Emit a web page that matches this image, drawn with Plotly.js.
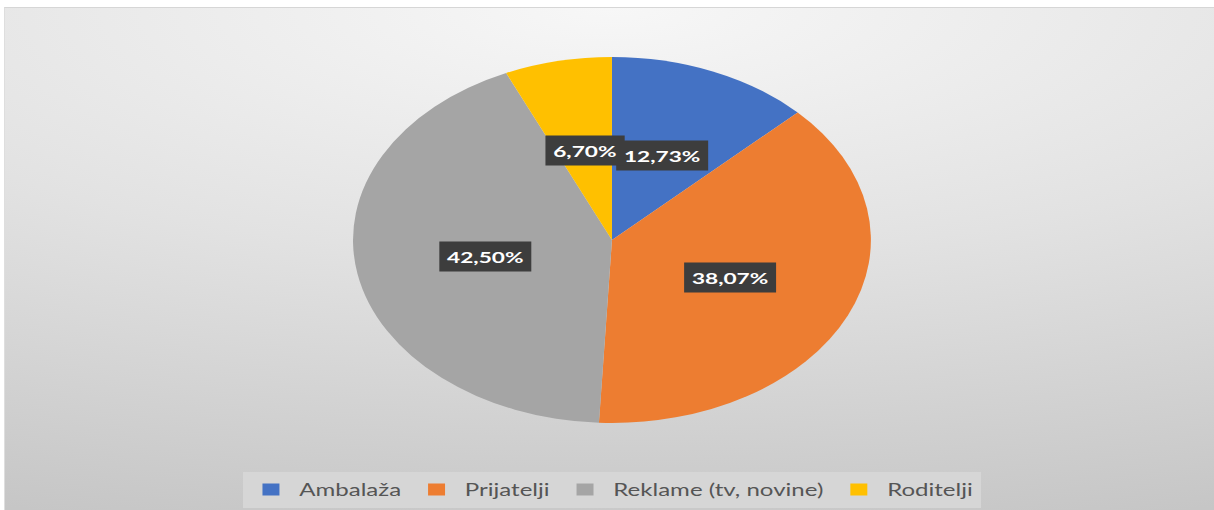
<!DOCTYPE html>
<html>
<head>
<meta charset="utf-8">
<script src="https://cdn.plot.ly/plotly-3.0.1.min.js"></script>
<style>
  html, body { margin: 0; padding: 0; background: #ffffff; overflow: hidden; }
  #bg {
    position: absolute; left: 4px; top: 7px; width: 1210px; height: 503px;
    border-top: 1px solid #d6d6d6; border-left: 1px solid #dedede; box-sizing: border-box;
    background: radial-gradient(ellipse 150% 110% at 50% 0%, #f7f7f7 0%, #e2e2e2 45%, #c4c4c4 100%);
  }
  #chart {
    position: absolute; left: 0; top: 0; width: 858px; height: 510px;
    transform: scaleX(1.41492); transform-origin: 0 0;
  }
</style>
</head>
<body>
<div id="bg"></div>
<div id="chart"></div>
<script>
// Data
const categories = ["Ambalaža", "Prijatelji", "Reklame (tv, novine)", "Roditelji"];
const shares = [12.73, 38.07, 42.50, 6.70];
const colors = ["#4472C4", "#ED7D31", "#A5A5A5", "#FFC000"];

// Layout geometry (unscaled plot coordinates)
const W = 858, H = 510;
const margin = { l: 7, r: 0, t: 57, b: 87 };
const plotW = W - margin.l - margin.r;
const plotH = H - margin.t - margin.b;
const radius = Math.min(plotW, plotH) / 2;

// label positions computed from the data: middle of each slice at half the radius
const total = shares.reduce((a, b) => a + b, 0);
let cum = 0;
const annotations = shares.map((v, i) => {
  const mid = (cum + v / 2) / total * 2 * Math.PI; // clockwise from 12 o'clock
  cum += v;
  const rr = radius * 0.5;
  return {
    xref: "paper", yref: "paper",
    x: 0.5 + rr * Math.sin(mid) / plotW,
    y: 0.5 + rr * Math.cos(mid) / plotH,
    xanchor: "center", yanchor: "middle",
    text: v.toFixed(2).replace(".", ",") + "%",
    showarrow: false,
    font: { family: "Lato", size: 16, color: "#ffffff", weight: "bold" },
    bgcolor: "#3d3d3d",
    borderpad: 5
  };
});

const trace = {
  type: "pie",
  labels: categories,
  values: shares,
  marker: { colors: colors, line: { width: 0 } },
  sort: false,
  direction: "clockwise",
  rotation: 0,
  textinfo: "none",
  hoverinfo: "label+percent"
};

const layout = {
  width: W, height: H,
  margin: margin,
  paper_bgcolor: "rgba(0,0,0,0)",
  plot_bgcolor: "rgba(0,0,0,0)",
  showlegend: true,
  legend: {
    orientation: "h",
    x: 0.5, xanchor: "center",
    yref: "container", y: 38 / H, yanchor: "top",
    bgcolor: "#d6d6d6",
    font: { family: "Lato", size: 17, color: "#555555" },
    itemclick: false, itemdoubleclick: false
  },
  annotations: annotations
};

Plotly.newPlot("chart", [trace], layout, { displayModeBar: false, staticPlot: true });
</script>
</body>
</html>
